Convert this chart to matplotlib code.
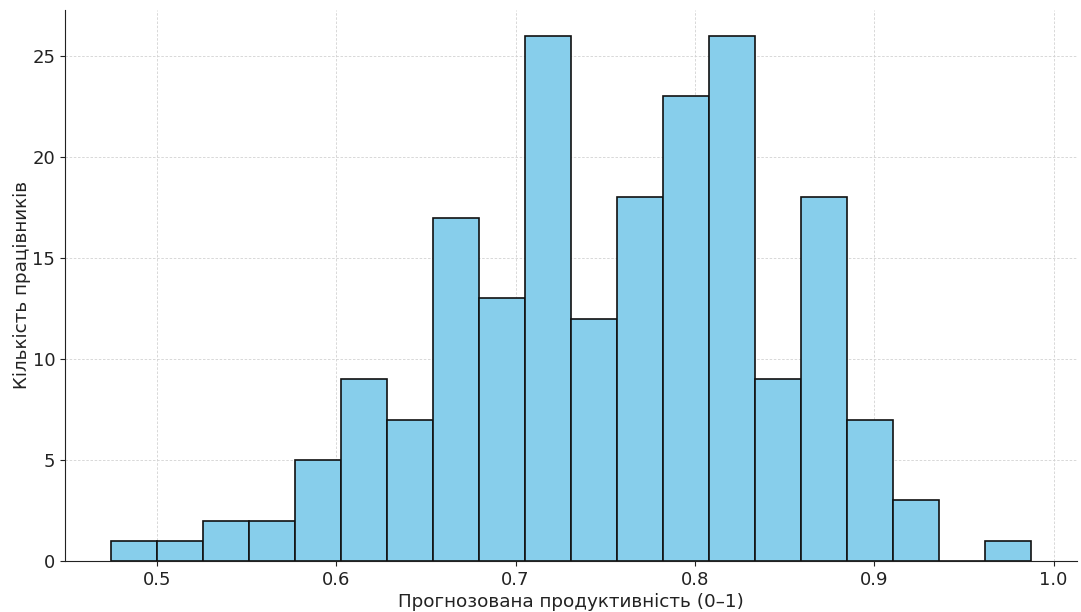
import numpy as np
import matplotlib
matplotlib.use("Agg")
import matplotlib.pyplot as plt

# Histogram of predicted productivity scores (200 employees, 20 bins)
bin_start = 0.4744
bin_end = 0.9872
counts = [1, 1, 2, 2, 5, 9, 7, 17, 13, 26, 12, 18, 23, 26, 9, 18, 7, 3, 0, 1]
x_ticks = [0.5, 0.6, 0.7, 0.8, 0.9, 1.0]
y_ticks = [0, 5, 10, 15, 20, 25]

xlabel = "Прогнозована продуктивність (0–1)"
ylabel = "Кількість працівників"

edges = np.linspace(bin_start, bin_end, len(counts) + 1)
centers = (edges[:-1] + edges[1:]) / 2

plt.rcParams['font.family'] = ['DejaVu Sans']
fig = plt.figure(figsize=(10.81, 6.12), dpi=100)
ax = fig.add_axes([0.060, 0.0833, 0.936, 0.901])

ax.hist(centers, bins=edges, weights=counts, color="skyblue",
        edgecolor="#111111", linewidth=1.2, zorder=2)

ax.set_xticks(x_ticks)
ax.set_yticks(y_ticks)
ax.tick_params(labelsize=13, colors="#222222")
ax.set_xlabel(xlabel, fontsize=13.2, color="#222222", labelpad=3)
ax.set_ylabel(ylabel, fontsize=13.2, color="#222222", labelpad=1)

ax.grid(True, linestyle=(0, (3, 2)), color="#d2d2d2", linewidth=0.6, zorder=0)
ax.set_axisbelow(True)
for side in ("top", "right"):
    ax.spines[side].set_visible(False)
for side in ("left", "bottom"):
    ax.spines[side].set_color("#222222")

fig.savefig("out.png", dpi=100)
